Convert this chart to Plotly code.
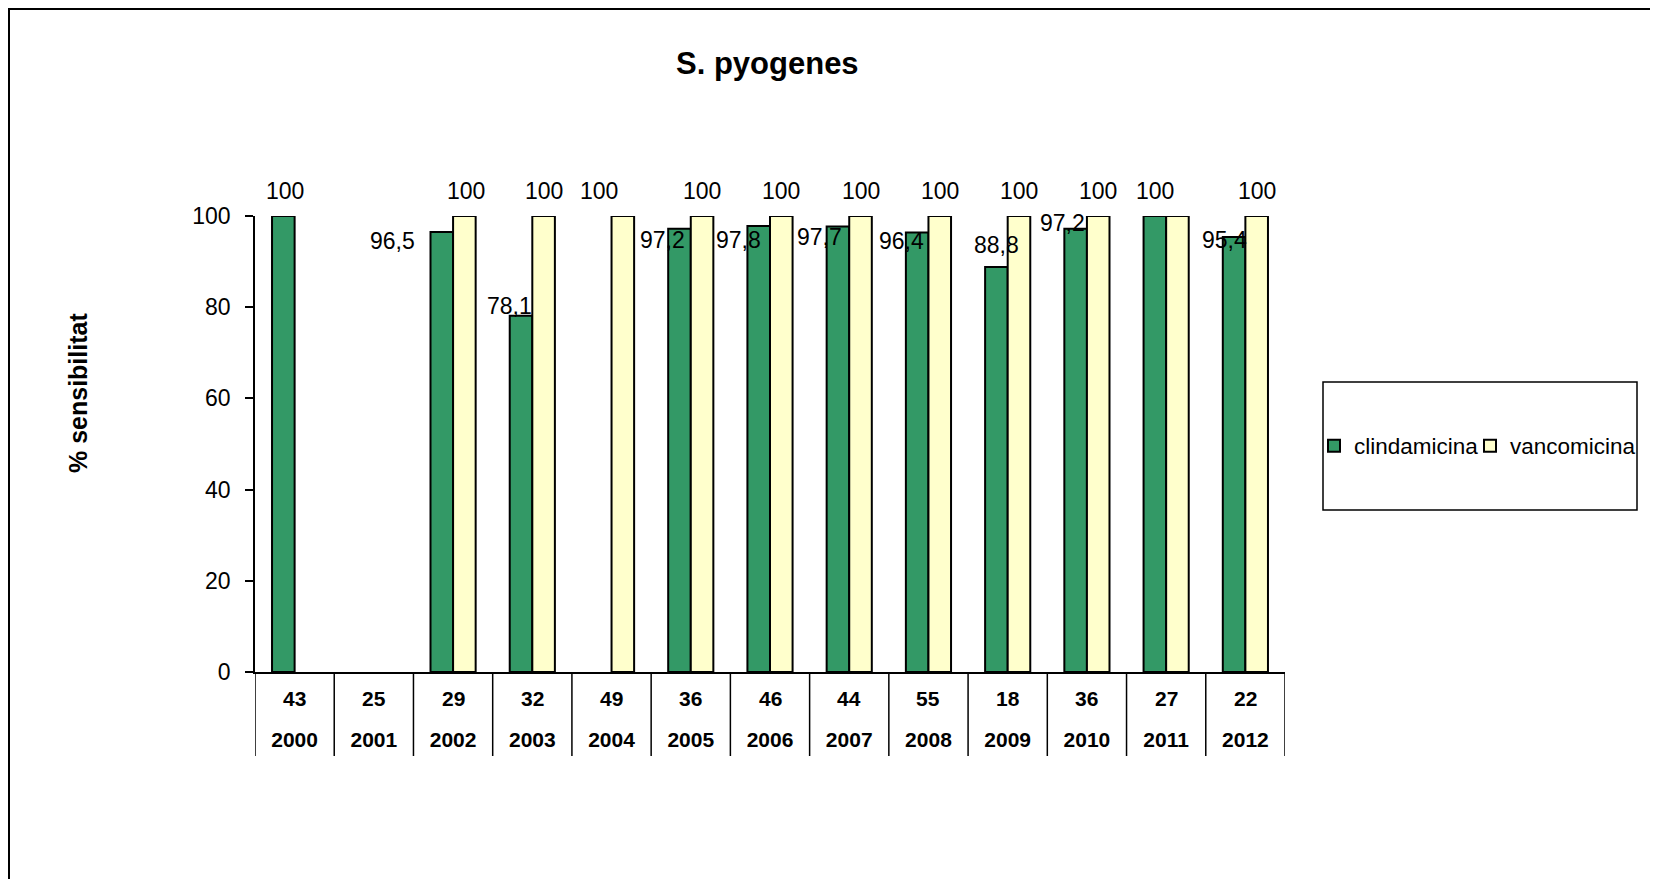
import plotly.graph_objects as go

# ---- data ----
years = ["2000", "2001", "2002", "2003", "2004", "2005", "2006",
         "2007", "2008", "2009", "2010", "2011", "2012"]
counts = ["43", "25", "29", "32", "49", "36", "46", "44", "55", "18", "36", "27", "22"]
clindamicina = [100, None, 96.5, 78.1, None, 97.2, 97.8, 97.7, 96.4, 88.8, 97.2, 100, 95.4]
vancomicina = [None, None, 100, 100, 100, 100, 100, 100, 100, 100, 100, 100, 100]
y_ticks = [0, 20, 40, 60, 80, 100]

# ---- label placement styling (pixel offsets relative to bar top centre) ----
clinda_dx = [2, 0, -49, -12, 0, -17, -20, -18, -16, 0, -13, 0, -10]
clinda_dy = [-25, 0, 9, -10, 0, 11, 14, 11, 9, -22, -6, -25, 3]   # + = downward
vanco_dx = [0, 0, 2, 0, -24, 0, 0, 0, 0, 0, 0, 0, 0]
vanco_show = [True] * 11 + [False, True]

OFF = 8  # page body margin in the browser
W, H = 1650, 871
# screen-space targets
S_LEFT, S_RIGHT, S_TOP, S_BOTTOM = 255, 1285, 216, 672
ML = S_LEFT - OFF
MT = S_TOP - OFF
MR = W - (S_RIGHT - OFF)
MB = H - (S_BOTTOM - OFF)
PW = W - ML - MR
PH = H - MT - MB
BARGAP = 0.43
cat_w = PW / len(years)
bar_w = cat_w * (1 - BARGAP) / 2

FONT = "Arial, Liberation Sans, sans-serif"
GREEN = "#339966"
YELLOW = "#FFFFCC"


def px_x(p):
    return (p - S_LEFT) / PW


def px_y(p):
    return (S_BOTTOM - p) / PH


fig = go.Figure()
fig.add_trace(go.Bar(name="clindamicina", x=years, y=clindamicina, legend="legend",
                     marker=dict(color=GREEN, line=dict(color="black", width=2))))
fig.add_trace(go.Bar(name="vancomicina", x=years, y=vancomicina, legend="legend2",
                     marker=dict(color=YELLOW, line=dict(color="black", width=2))))


def fmt(v):
    return f"{v:g}".replace(".", ",")


annotations = []
for i, v in enumerate(clindamicina):
    if v is None:
        continue
    annotations.append(dict(x=i, y=v, xref="x", yref="y", text=fmt(v), showarrow=False,
                            xanchor="center", yanchor="middle",
                            xshift=-bar_w / 2 + clinda_dx[i], yshift=-clinda_dy[i],
                            font=dict(family=FONT, size=23, color="black")))
for i, v in enumerate(vancomicina):
    if v is None or not vanco_show[i]:
        continue
    annotations.append(dict(x=i, y=v, xref="x", yref="y", text=fmt(v), showarrow=False,
                            xanchor="center", yanchor="middle",
                            xshift=bar_w / 2 + vanco_dx[i], yshift=25.5,
                            font=dict(family=FONT, size=23, color="black")))

# counts row of the category table (years row is the axis tick labels)
for i, c in enumerate(counts):
    annotations.append(dict(x=i, y=0, xref="x", yref="paper", text=f"<b>{c}</b>",
                            showarrow=False, xanchor="center", yanchor="middle", yshift=-26,
                            font=dict(family=FONT, size=21, color="black")))

# title and y title
annotations.append(dict(x=px_x(767), y=px_y(63), xref="paper", yref="paper",
                        text="<b>S. pyogenes</b>", showarrow=False, xanchor="center",
                        yanchor="middle", font=dict(family=FONT, size=31, color="black")))
annotations.append(dict(x=px_x(78), y=px_y(393), xref="paper", yref="paper",
                        text="<b>% sensibilitat</b>", showarrow=False, textangle=-90,
                        xanchor="center", yanchor="middle",
                        font=dict(family=FONT, size=25, color="black")))

shapes = [
    # chart border
    dict(type="rect", xref="paper", yref="paper", x0=px_x(9), x1=px_x(1655),
         y0=px_y(905), y1=px_y(9), line=dict(color="black", width=2), fillcolor="rgba(0,0,0,0)"),
    # legend box
    dict(type="rect", xref="paper", yref="paper", x0=px_x(1323), x1=px_x(1637),
         y0=px_y(510), y1=px_y(382), line=dict(color="black", width=1.5),
         fillcolor="white", layer="below"),
]
# vertical dividers of the category table
for i in range(len(years) + 1):
    shapes.append(dict(type="line", xref="x", yref="paper", x0=i - 0.5, x1=i - 0.5,
                       y0=0, y1=-84 / PH, line=dict(color="black", width=1.5)))

legend_common = dict(orientation="h", y=px_y(446), xanchor="left", yanchor="middle",
                     font=dict(family=FONT, size=22.5, color="black"),
                     bgcolor="rgba(0,0,0,0)", itemwidth=30, itemclick=False)

fig.update_layout(
    width=W, height=H,
    margin=dict(l=ML, r=MR, t=MT, b=MB, autoexpand=False),
    paper_bgcolor="white", plot_bgcolor="white",
    barmode="group", bargap=BARGAP, bargroupgap=0,
    showlegend=True,
    legend=dict(x=px_x(1314), **legend_common),
    legend2=dict(x=px_x(1470), **legend_common),
    annotations=annotations,
    shapes=shapes,
    font=dict(family=FONT, color="black"),
)
fig.update_xaxes(type="category", range=[-0.5, len(years) - 0.5],
                 showline=True, linecolor="black", linewidth=2,
                 ticks="", showgrid=False, zeroline=False, ticklabelstandoff=48,
                 tickfont=dict(family=FONT, size=21, color="black", weight="bold"))
fig.update_yaxes(range=[0, 100], tickvals=y_ticks, showline=True, linecolor="black", linewidth=1.5,
                 ticks="outside", ticklen=8, tickcolor="black", tickwidth=1.5,
                 showgrid=False, zeroline=False, ticklabelstandoff=10,
                 tickfont=dict(family=FONT, size=23, color="black"))

fig.write_html("out.html")
